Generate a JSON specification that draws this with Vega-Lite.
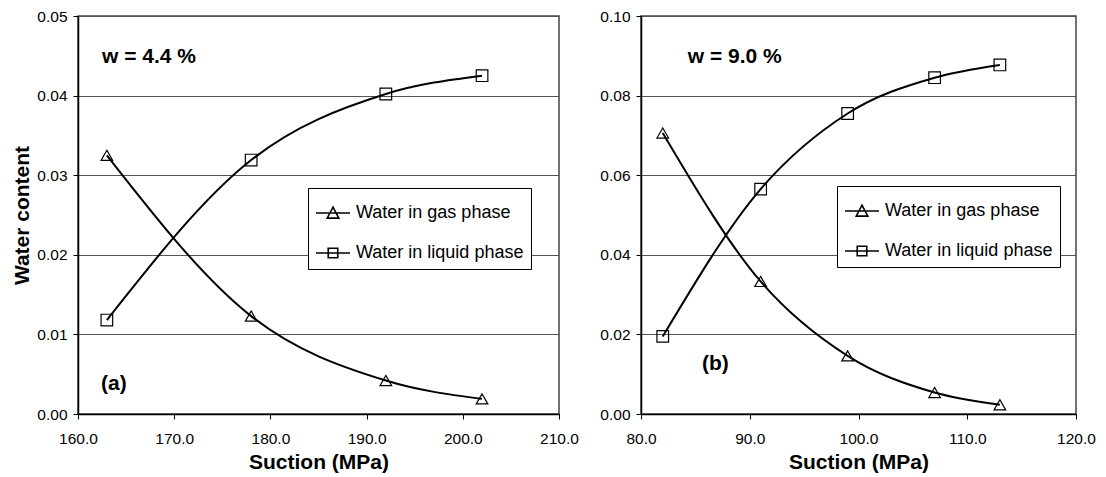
{
  "$schema": "https://vega.github.io/schema/vega-lite/v6.json",
  "background": "white",
  "padding": {"left": 11, "top": 8, "right": 0, "bottom": 0},
  "spacing": 19,
  "config": {
    "font": "Liberation Sans",
    "view": {"stroke": "#444", "strokeWidth": 1.5},
    "axis": {
      "labelFont": "Liberation Sans", "labelFontSize": 15.5, "labelColor": "black", "labelFlush": false,
      "titleFont": "Liberation Sans", "titleFontSize": 21, "titleFontWeight": "bold", "titleColor": "black",
      "domainColor": "black", "domainWidth": 1.5, "tickColor": "black", "tickSize": 5, "tickWidth": 1,
      "gridColor": "#555", "gridWidth": 1, "labelPadding": 6
    },
    "legend": {
      "labelFont": "Liberation Sans", "labelFontSize": 18, "labelColor": "black", "labelLimit": 400,
      "strokeColor": "black", "fillColor": "white", "padding": 7, "symbolSize": 1156,
      "labelOffset": 5, "rowPadding": 13, "cornerRadius": 0, "symbolOpacity": 1,
      "symbolFillColor": "transparent", "symbolStrokeColor": "black", "symbolStrokeWidth": 1.6
    }
  },
  "datasets": {
    "a": [
      {"series": "Water in gas phase", "suction": 163, "water": 0.0325},
      {"series": "Water in gas phase", "suction": 178, "water": 0.0123},
      {"series": "Water in gas phase", "suction": 192, "water": 0.0042},
      {"series": "Water in gas phase", "suction": 202, "water": 0.0019},
      {"series": "Water in liquid phase", "suction": 163, "water": 0.0118},
      {"series": "Water in liquid phase", "suction": 178, "water": 0.0319},
      {"series": "Water in liquid phase", "suction": 192, "water": 0.0402},
      {"series": "Water in liquid phase", "suction": 202, "water": 0.0425}
    ],
    "b": [
      {"series": "Water in gas phase", "suction": 82, "water": 0.0706},
      {"series": "Water in gas phase", "suction": 91, "water": 0.0333},
      {"series": "Water in gas phase", "suction": 99, "water": 0.0146},
      {"series": "Water in gas phase", "suction": 107, "water": 0.0054},
      {"series": "Water in gas phase", "suction": 113, "water": 0.0023},
      {"series": "Water in liquid phase", "suction": 82, "water": 0.0195},
      {"series": "Water in liquid phase", "suction": 91, "water": 0.0565},
      {"series": "Water in liquid phase", "suction": 99, "water": 0.0755},
      {"series": "Water in liquid phase", "suction": 107, "water": 0.0845},
      {"series": "Water in liquid phase", "suction": 113, "water": 0.0877}
    ],
    "labels_a": [
      {"suction": 162.5, "water": 0.0448, "text": "w = 4.4 %"},
      {"suction": 162.4, "water": 0.0038, "text": "(a)"}
    ],
    "labels_b": [
      {"suction": 84.3, "water": 0.0897, "text": "w = 9.0 %"},
      {"suction": 85.6, "water": 0.0126, "text": "(b)"}
    ]
  },
  "hconcat": [
    {
      "width": 481, "height": 398,
      "resolve": {"scale": {"shape": "independent"}},
      "layer": [
        {
          "data": {"name": "a"},
          "mark": {"type": "line", "color": "black", "strokeWidth": 2, "interpolate": "monotone"},
          "encoding": {
            "x": {"field": "suction", "type": "quantitative", "scale": {"domain": [160, 210], "nice": false},
                  "axis": {"values": [160, 170, 180, 190, 200, 210], "format": ".1f", "grid": false, "title": "Suction (MPa)", "labelPadding": 12, "titlePadding": 5}},
            "y": {"field": "water", "type": "quantitative", "scale": {"domain": [0, 0.05], "nice": false},
                  "axis": {"values": [0, 0.01, 0.02, 0.03, 0.04, 0.05], "format": ".2f", "title": "Water content", "titlePadding": 4}},
            "detail": {"field": "series"}
          }
        },
        {
          "data": {"name": "a"},
          "mark": {"type": "point", "filled": false, "color": "black", "strokeWidth": 1.2, "size": 135, "opacity": 1},
          "encoding": {
            "x": {"field": "suction", "type": "quantitative"},
            "y": {"field": "water", "type": "quantitative"},
            "shape": {"field": "series", "type": "nominal",
              "scale": {"domain": ["Water in gas phase", "Water in liquid phase"], "range": ["triangle-up", "square"]},
              "legend": null}
          }
        },
        {
          "data": {"name": "a"},
          "mark": {"type": "point", "filled": false, "color": "black", "size": 0, "opacity": 1},
          "encoding": {
            "x": {"field": "suction", "type": "quantitative"},
            "y": {"field": "water", "type": "quantitative"},
            "shape": {"field": "series", "type": "nominal",
              "scale": {"domain": ["Water in gas phase", "Water in liquid phase"], "range": ["M-1,0H1M0,-0.34L0.34,0.3H-0.34Z", "M-1,0H1M-0.28,-0.28H0.28V0.28H-0.28Z"]},
              "legend": {"title": null, "orient": "none", "legendX": 230, "legendY": 172, "symbolSize": 1156}}
          }
        },
        {
          "data": {"name": "labels_a"},
          "mark": {"type": "text", "align": "left", "baseline": "middle", "fontSize": 21, "fontWeight": "bold", "color": "black", "font": "Liberation Sans"},
          "encoding": {
            "x": {"field": "suction", "type": "quantitative"},
            "y": {"field": "water", "type": "quantitative"},
            "text": {"field": "text"}
          }
        }
      ]
    },
    {
      "width": 435, "height": 398,
      "resolve": {"scale": {"shape": "independent"}},
      "layer": [
        {
          "data": {"name": "b"},
          "mark": {"type": "line", "color": "black", "strokeWidth": 2, "interpolate": "monotone"},
          "encoding": {
            "x": {"field": "suction", "type": "quantitative", "scale": {"domain": [80, 120], "nice": false},
                  "axis": {"values": [80, 90, 100, 110, 120], "format": ".1f", "grid": false, "title": "Suction (MPa)", "labelPadding": 12, "titlePadding": 5}},
            "y": {"field": "water", "type": "quantitative", "scale": {"domain": [0, 0.1], "nice": false},
                  "axis": {"values": [0, 0.02, 0.04, 0.06, 0.08, 0.1], "format": ".2f", "title": null}},
            "detail": {"field": "series"}
          }
        },
        {
          "data": {"name": "b"},
          "mark": {"type": "point", "filled": false, "color": "black", "strokeWidth": 1.2, "size": 135, "opacity": 1},
          "encoding": {
            "x": {"field": "suction", "type": "quantitative"},
            "y": {"field": "water", "type": "quantitative"},
            "shape": {"field": "series", "type": "nominal",
              "scale": {"domain": ["Water in gas phase", "Water in liquid phase"], "range": ["triangle-up", "square"]},
              "legend": null}
          }
        },
        {
          "data": {"name": "b"},
          "mark": {"type": "point", "filled": false, "color": "black", "size": 0, "opacity": 1},
          "encoding": {
            "x": {"field": "suction", "type": "quantitative"},
            "y": {"field": "water", "type": "quantitative"},
            "shape": {"field": "series", "type": "nominal",
              "scale": {"domain": ["Water in gas phase", "Water in liquid phase"], "range": ["M-1,0H1M0,-0.34L0.34,0.3H-0.34Z", "M-1,0H1M-0.28,-0.28H0.28V0.28H-0.28Z"]},
              "legend": {"title": null, "orient": "none", "legendX": 196, "legendY": 170, "symbolSize": 1156}}
          }
        },
        {
          "data": {"name": "labels_b"},
          "mark": {"type": "text", "align": "left", "baseline": "middle", "fontSize": 21, "fontWeight": "bold", "color": "black", "font": "Liberation Sans"},
          "encoding": {
            "x": {"field": "suction", "type": "quantitative"},
            "y": {"field": "water", "type": "quantitative"},
            "text": {"field": "text"}
          }
        }
      ]
    }
  ],
  "resolve": {"scale": {"shape": "independent"}, "legend": {"shape": "independent"}}
}
